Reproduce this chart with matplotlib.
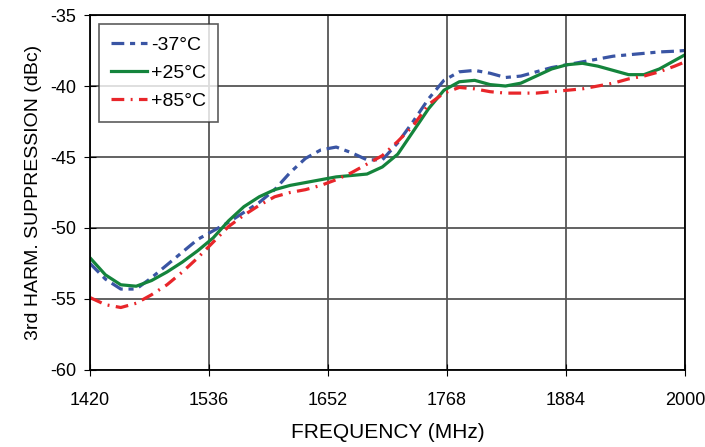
import matplotlib.pyplot as plt

plt.rcParams['font.family'] = ['Liberation Sans', 'DejaVu Sans']
plt.rcParams['axes.unicode_minus'] = False

freq = [1420, 1435, 1450, 1465, 1480, 1495, 1510, 1525, 1540, 1555,
        1570, 1585, 1600, 1615, 1630, 1645, 1660, 1675, 1690, 1705,
        1720, 1735, 1750, 1765, 1780, 1795, 1810, 1825, 1840, 1855,
        1870, 1885, 1900, 1915, 1930, 1945, 1960, 1975, 1990, 2000]

cold = [-52.5, -53.6, -54.3, -54.3, -53.5, -52.6, -51.7, -50.8, -50.2, -49.6,
        -48.9, -48.2, -47.3, -46.1, -45.1, -44.5, -44.3, -44.7, -45.2, -45.2,
        -44.0, -42.5, -40.9, -39.6, -39.0, -38.9, -39.1, -39.4, -39.3, -39.0,
        -38.7, -38.5, -38.3, -38.1, -37.9, -37.8, -37.7, -37.6, -37.55, -37.5]

room = [-52.1, -53.3, -54.0, -54.1, -53.7, -53.1, -52.4, -51.6, -50.7, -49.5,
        -48.5, -47.8, -47.3, -47.0, -46.8, -46.6, -46.4, -46.3, -46.2, -45.7,
        -44.8, -43.2, -41.6, -40.3, -39.7, -39.6, -39.9, -40.0, -39.8, -39.3,
        -38.8, -38.5, -38.4, -38.6, -38.9, -39.2, -39.2, -38.8, -38.2, -37.8]

hot = [-54.9, -55.4, -55.6, -55.3, -54.7, -54.0, -53.1, -52.1, -51.0, -49.9,
       -49.1, -48.4, -47.8, -47.5, -47.3, -47.0, -46.6, -46.1, -45.5, -44.9,
       -43.9, -42.8, -41.3, -40.5, -40.1, -40.2, -40.4, -40.5, -40.5, -40.5,
       -40.4, -40.3, -40.2, -40.0, -39.8, -39.5, -39.3, -39.0, -38.6, -38.3]

labels = ['-37°C', '+25°C', '+85°C']
xticks = [1420, 1536, 1652, 1768, 1884, 2000]
yticks = [-60, -55, -50, -45, -40, -35]

fig = plt.figure(figsize=(7.05, 4.47), dpi=100)
ax = fig.add_axes([0.1277, 0.1723, 0.8439, 0.7941])

ax.plot(freq, cold, color='#3a55a4', lw=2.3, ls=(0, (4, 1.8, 1.6, 1.8)), label=labels[0])
ax.plot(freq, room, color='#14843c', lw=2.3, label=labels[1])
ax.plot(freq, hot, color='#e8262a', lw=2.3, ls=(0, (4, 2, 0.6, 2)), label=labels[2])

ax.set_xlim(1420, 2000)
ax.set_ylim(-60, -35)
ax.set_xticks(xticks)
ax.set_yticks(yticks)
ax.grid(True, color='#555555', lw=1.3)
ax.set_axisbelow(True)
ax.tick_params(direction='inout', length=8, labelsize=13)
ax.tick_params(axis='x', pad=12)
ax.tick_params(axis='y', pad=6)
for s in ax.spines.values():
    s.set_linewidth(1.3)

ax.set_xlabel('FREQUENCY (MHz)', fontsize=15, labelpad=10)
ax.set_ylabel('3rd HARM. SUPPRESSION (dBc)', fontsize=14, labelpad=6)

leg = ax.legend(loc='upper left', bbox_to_anchor=(0.005, 0.99), fontsize=14,
                frameon=True, fancybox=False, edgecolor='#333333',
                handlelength=1.9, handletextpad=0.2, borderpad=0.6, labelspacing=0.55,
                borderaxespad=0.3)
leg.get_frame().set_linewidth(1.2)

fig.savefig('out.png', dpi=100)
